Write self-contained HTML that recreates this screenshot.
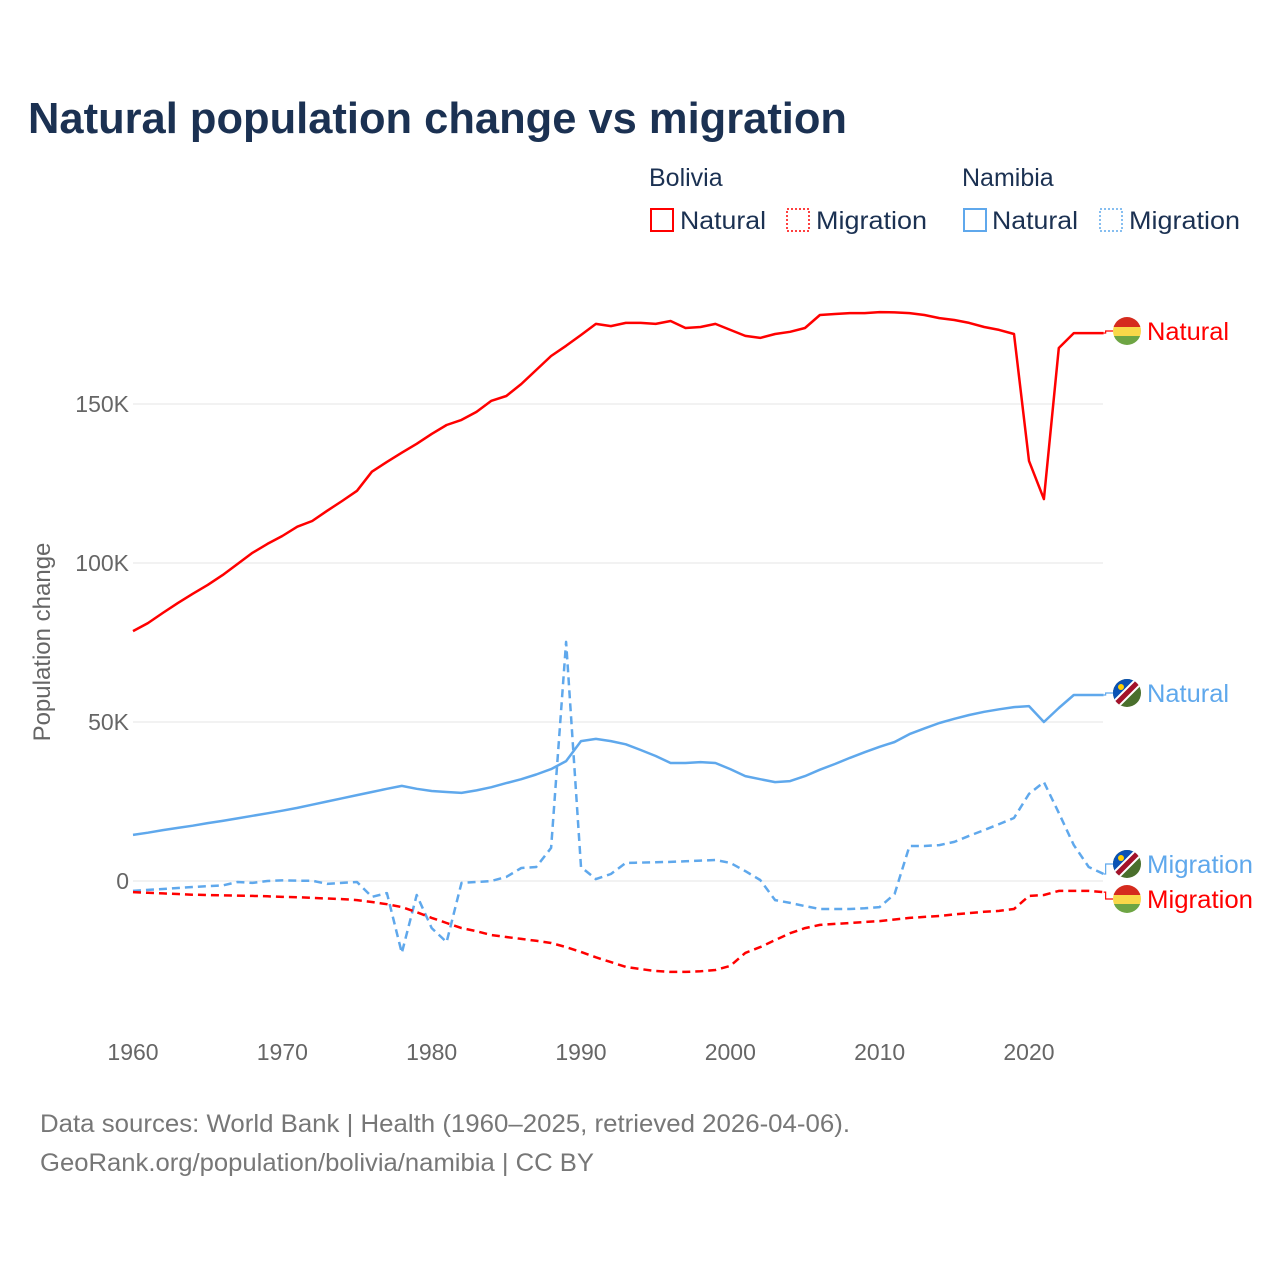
<!DOCTYPE html>
<html><head><meta charset="utf-8">
<style>
html,body{margin:0;padding:0;background:#fff;}
body{width:1280px;height:1280px;overflow:hidden;font-family:"Liberation Sans",sans-serif;}
</style></head>
<body>
<svg id="chart" width="1280" height="1280" viewBox="0 0 1280 1280" xmlns="http://www.w3.org/2000/svg" font-family="Liberation Sans, sans-serif">
<text x="28" y="133" font-size="44" font-weight="bold" fill="#1b3152" textLength="819" lengthAdjust="spacingAndGlyphs">Natural population change vs migration</text>
<g font-size="25" fill="#1b3152">
<text x="649" y="186">Bolivia</text>
<text x="962" y="186">Namibia</text>
<g><rect x="651" y="209" width="22" height="22" fill="none" stroke="#ff0000" stroke-width="2"/><text x="680" y="229" textLength="86" lengthAdjust="spacingAndGlyphs">Natural</text></g>
<g><rect x="787" y="209" width="22" height="22" fill="none" stroke="#ff0000" stroke-width="1.5" stroke-dasharray="2,2"/><text x="816" y="229" textLength="111" lengthAdjust="spacingAndGlyphs">Migration</text></g>
<g><rect x="964" y="209" width="22" height="22" fill="none" stroke="#5fa8ec" stroke-width="2"/><text x="992" y="229" textLength="86" lengthAdjust="spacingAndGlyphs">Natural</text></g>
<g><rect x="1100" y="209" width="22" height="22" fill="none" stroke="#5fa8ec" stroke-width="1.5" stroke-dasharray="2,2"/><text x="1129" y="229" textLength="111" lengthAdjust="spacingAndGlyphs">Migration</text></g>
</g>
<g id="grid"></g>
<g id="yticks" font-size="23" fill="#666" text-anchor="end"></g>
<g id="xticks" font-size="23" fill="#666" text-anchor="middle"></g>
<text transform="translate(50,642) rotate(-90)" text-anchor="middle" font-size="24" fill="#666">Population change</text>
<g id="series"></g>
<g id="labels" font-size="25"></g>
<g font-size="25" fill="#777">
<text x="40" y="1132" textLength="810" lengthAdjust="spacingAndGlyphs">Data sources: World Bank | Health (1960–2025, retrieved 2026-04-06).</text>
<text x="40" y="1171" textLength="554" lengthAdjust="spacingAndGlyphs">GeoRank.org/population/bolivia/namibia | CC BY</text>
</g>
</svg>
<script>
const startYear = 1960;
const bolNatural = [78.6,81.1,84.3,87.4,90.3,93.1,96.2,99.7,103.2,106.0,108.5,111.4,113.2,116.4,119.5,122.7,128.7,131.8,134.7,137.5,140.6,143.4,145.0,147.5,151.0,152.5,156.3,160.7,165.1,168.3,171.7,175.2,174.5,175.5,175.5,175.2,176.1,173.9,174.2,175.2,173.3,171.4,170.8,172.0,172.7,173.9,178.0,178.3,178.6,178.6,178.9,178.8,178.6,178.0,177.0,176.4,175.5,174.2,173.3,172.0,132.1,120.1,167.6,172.3,172.3,172.3];
const bolMigration = [-3.5,-3.7,-3.9,-4.1,-4.3,-4.4,-4.5,-4.6,-4.7,-4.8,-5.0,-5.1,-5.3,-5.5,-5.7,-6.0,-6.6,-7.3,-8.2,-9.8,-11.6,-13.2,-14.8,-15.8,-17.0,-17.6,-18.2,-18.8,-19.5,-20.8,-22.3,-24.0,-25.5,-27.0,-27.7,-28.3,-28.6,-28.6,-28.4,-28.0,-26.7,-22.6,-20.8,-18.6,-16.4,-14.8,-13.8,-13.5,-13.2,-12.9,-12.6,-12.1,-11.6,-11.3,-11.0,-10.5,-10.1,-9.7,-9.4,-8.8,-4.7,-4.4,-3.1,-3.1,-3.1,-3.5];
const namNatural = [14.5,15.2,16.0,16.7,17.4,18.2,18.9,19.7,20.5,21.3,22.1,23.0,24.0,25.0,26.0,27.0,28.0,29.0,29.9,29.0,28.3,28.0,27.7,28.5,29.5,30.8,32.0,33.5,35.2,37.7,44.0,44.7,44.0,43.0,41.2,39.3,37.1,37.1,37.4,37.1,35.2,33.0,32.0,31.1,31.4,33.0,35.0,36.8,38.7,40.5,42.2,43.7,46.2,48.0,49.7,51.0,52.2,53.2,54.0,54.7,55.0,50.0,54.4,58.5,58.5,58.5];
const namMigration = [-3.1,-2.8,-2.5,-2.2,-1.9,-1.6,-1.4,-0.3,-0.6,0.0,0.2,0.1,0.1,-0.9,-0.6,-0.3,-5.0,-3.8,-22.6,-4.4,-14.8,-19.2,-0.6,-0.3,0.0,1.3,4.1,4.4,10.4,75.2,4.4,0.6,2.2,5.7,5.8,5.9,6.0,6.2,6.4,6.6,5.7,3.1,0.3,-6.0,-6.9,-7.9,-8.8,-8.8,-8.8,-8.6,-8.2,-4.1,11.0,11.0,11.3,12.3,14.2,16.0,17.9,19.8,27.4,31.1,21.4,11.3,4.4,2.2];
const yTicks = [0,50,100,150];
const yTickLabels = ["0","50K","100K","150K"];
const xTicks = [1960,1970,1980,1990,2000,2010,2020];

const NS="http://www.w3.org/2000/svg";
const X0=133, XPY=14.933, Y0=881, YPK=3.18;
function xs(yr){return X0+(yr-1960)*XPY;}
function ys(k){return Y0-k*YPK;}
function mk(tag,attrs,parent){const e=document.createElementNS(NS,tag);for(const k in attrs)e.setAttribute(k,attrs[k]);parent.appendChild(e);return e;}

const grid=document.getElementById('grid'), yt=document.getElementById('yticks'), xt=document.getElementById('xticks');
yTicks.forEach((v,i)=>{
  const l=mk('line',{x1:133,x2:1103,y1:ys(v),y2:ys(v),stroke:'#e6e6e6','stroke-width':1},grid);
  
  
  const t=mk('text',{x:129,y:ys(v)+8},yt);
  t.textContent=yTickLabels[i];
  
  
});
xTicks.forEach(yr=>{
  const t=mk('text',{x:xs(yr),y:1060},xt);
  t.textContent=String(yr);
  
  
});

const series=document.getElementById('series'), labels=document.getElementById('labels');
function flagBol(g,cx,cy){
  const id='cb'+Math.round(cy);
  const cp=mk('clipPath',{id:id},g);mk('circle',{cx:cx,cy:cy,r:14},cp);
  const fg=mk('g',{'clip-path':'url(#'+id+')'},g);
  mk('rect',{x:cx-14,y:cy-14,width:28,height:10,fill:'#d52b1e'},fg);
  mk('rect',{x:cx-14,y:cy-4,width:28,height:9,fill:'#f9d849'},fg);
  mk('rect',{x:cx-14,y:cy+5,width:28,height:9,fill:'#6ea544'},fg);
}
function flagNam(g,cx,cy){
  const id='cn'+Math.round(cy);
  const cp=mk('clipPath',{id:id},g);mk('circle',{cx:cx,cy:cy,r:14},cp);
  const fg=mk('g',{'clip-path':'url(#'+id+')'},g);
  mk('rect',{x:cx-14,y:cy-14,width:28,height:28,fill:'#4a6f2c'},fg);
  mk('polygon',{points:`${cx-14},${cy-14} ${cx+14},${cy-14} ${cx-14},${cy+14}`,fill:'#0a52b5'},fg);
  mk('line',{x1:cx-16,y1:cy+16,x2:cx+16,y2:cy-16,stroke:'#fff','stroke-width':9},fg);
  mk('line',{x1:cx-16,y1:cy+16,x2:cx+16,y2:cy-16,stroke:'#a3122a','stroke-width':5},fg);
  mk('circle',{cx:cx-6,cy:cy-6,r:3,fill:'#ffce00'},fg);
}
function draw(vals,color,dash,name,labY,labText,flag,len){
  const pts=vals.map((v,i)=>xs(startYear+i).toFixed(1)+','+ys(v).toFixed(1)).join(' ');
  const p=mk('polyline',{points:pts,fill:'none',stroke:color,'stroke-width':2.5,'stroke-linejoin':'round'},series);
  if(dash)p.setAttribute('stroke-dasharray','8,5');
  
  
  const lx=xs(startYear+vals.length-1), ly=ys(vals[vals.length-1]);
  const g=mk('g',{},labels);
  
  
  mk('polyline',{points:`${lx},${ly} ${lx+2},${ly} ${lx+2},${labY} ${1113},${labY}`,fill:'none',stroke:color,'stroke-width':1.2},g);
  flag(g,1127,labY);
  const t=mk('text',{x:1147,y:labY+9,fill:color,textLength:len,lengthAdjust:'spacingAndGlyphs'},g);
  t.textContent=labText;
}
draw(bolNatural,'#ff0000',false,'bolivia-natural-line',331,'Natural',flagBol,82);
draw(namNatural,'#5fa8ec',false,'namibia-natural-line',693,'Natural',flagNam,82);
draw(namMigration,'#5fa8ec',true,'namibia-migration-line',864,'Migration',flagNam,106);
draw(bolMigration,'#ff0000',true,'bolivia-migration-line',899,'Migration',flagBol,106);
</script>
</body></html>
